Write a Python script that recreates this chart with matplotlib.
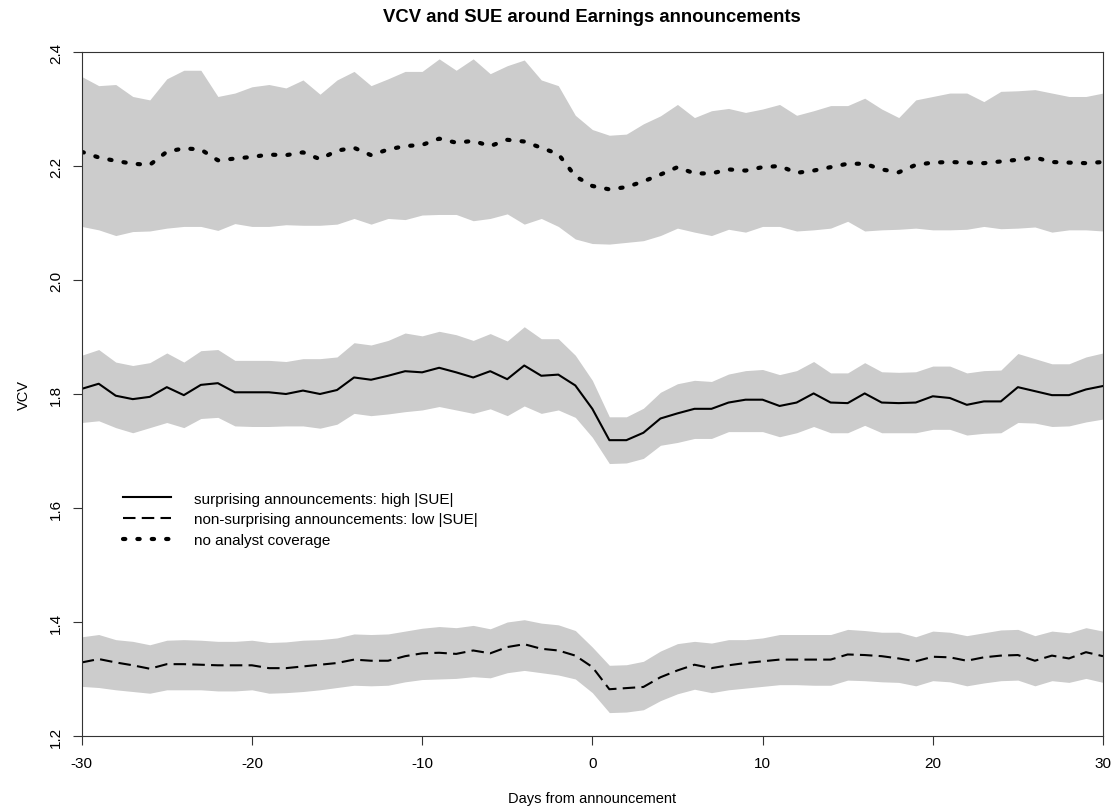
import numpy as np
import matplotlib
matplotlib.use("Agg")
import matplotlib.pyplot as plt

# ---------------------------------------------------------
# Data
# ---------------------------------------------------------
days = list(range(-30, 31))

# no analyst coverage (dotted) and its band
nocov_mean = [2.225, 2.215, 2.209, 2.204, 2.202, 2.225, 2.231, 2.229, 2.210, 2.213,
              2.216, 2.220, 2.219, 2.224, 2.212, 2.227, 2.232, 2.219, 2.229, 2.235,
              2.237, 2.248, 2.241, 2.244, 2.235, 2.246, 2.243, 2.232, 2.221, 2.182,
              2.165, 2.159, 2.163, 2.173, 2.185, 2.198, 2.187, 2.187, 2.194, 2.192,
              2.198, 2.200, 2.188, 2.192, 2.198, 2.204, 2.204, 2.194, 2.189, 2.202,
              2.206, 2.207, 2.206, 2.205, 2.208, 2.211, 2.215, 2.207, 2.206, 2.205, 2.207]
nocov_hi = [2.357, 2.341, 2.343, 2.322, 2.316, 2.353, 2.368, 2.368, 2.322, 2.328,
            2.339, 2.343, 2.337, 2.351, 2.326, 2.351, 2.366, 2.341, 2.353, 2.366,
            2.366, 2.388, 2.368, 2.388, 2.362, 2.376, 2.386, 2.351, 2.341, 2.289,
            2.264, 2.254, 2.256, 2.274, 2.288, 2.308, 2.285, 2.297, 2.301, 2.294,
            2.300, 2.308, 2.289, 2.297, 2.306, 2.306, 2.319, 2.300, 2.285, 2.316,
            2.322, 2.328, 2.328, 2.313, 2.331, 2.332, 2.334, 2.328, 2.322, 2.322, 2.328]
nocov_lo = [2.094, 2.088, 2.078, 2.085, 2.086, 2.091, 2.094, 2.094, 2.087, 2.099,
            2.094, 2.094, 2.097, 2.096, 2.096, 2.098, 2.108, 2.098, 2.108, 2.106,
            2.114, 2.115, 2.115, 2.104, 2.108, 2.116, 2.098, 2.108, 2.094, 2.072,
            2.064, 2.063, 2.066, 2.069, 2.078, 2.091, 2.084, 2.078, 2.089, 2.084,
            2.094, 2.094, 2.086, 2.088, 2.091, 2.103, 2.086, 2.088, 2.089, 2.091,
            2.088, 2.088, 2.089, 2.094, 2.090, 2.091, 2.093, 2.084, 2.088, 2.088, 2.086]

# surprising announcements: high |SUE| (solid)
high_mean = [1.809, 1.818, 1.797, 1.791, 1.795, 1.812, 1.798, 1.816, 1.819, 1.803,
             1.803, 1.803, 1.800, 1.806, 1.800, 1.807, 1.829, 1.825, 1.832, 1.840,
             1.838, 1.846, 1.838, 1.829, 1.840, 1.826, 1.850, 1.832, 1.834, 1.815,
             1.774, 1.719, 1.719, 1.732, 1.757, 1.766, 1.774, 1.774, 1.785, 1.790,
             1.790, 1.779, 1.785, 1.801, 1.785, 1.784, 1.801, 1.785, 1.784, 1.785,
             1.796, 1.793, 1.781, 1.787, 1.787, 1.812, 1.805, 1.798, 1.798, 1.808, 1.814]
high_hi = [1.868, 1.878, 1.856, 1.850, 1.855, 1.872, 1.856, 1.876, 1.878, 1.859,
           1.859, 1.859, 1.857, 1.862, 1.862, 1.865, 1.890, 1.886, 1.894, 1.907,
           1.902, 1.910, 1.904, 1.894, 1.906, 1.893, 1.918, 1.897, 1.897, 1.868,
           1.824, 1.760, 1.760, 1.775, 1.803, 1.818, 1.824, 1.822, 1.835, 1.841,
           1.843, 1.834, 1.841, 1.857, 1.837, 1.837, 1.855, 1.839, 1.838, 1.839,
           1.849, 1.849, 1.837, 1.841, 1.842, 1.871, 1.862, 1.853, 1.853, 1.865, 1.872]
high_lo = [1.750, 1.753, 1.741, 1.732, 1.741, 1.750, 1.741, 1.757, 1.759, 1.744,
           1.743, 1.743, 1.744, 1.744, 1.740, 1.747, 1.766, 1.762, 1.765, 1.769,
           1.772, 1.778, 1.772, 1.766, 1.774, 1.762, 1.779, 1.766, 1.772, 1.759,
           1.724, 1.678, 1.679, 1.687, 1.710, 1.715, 1.722, 1.722, 1.734, 1.734,
           1.734, 1.725, 1.732, 1.743, 1.732, 1.732, 1.745, 1.732, 1.732, 1.732,
           1.738, 1.738, 1.728, 1.731, 1.732, 1.750, 1.749, 1.743, 1.744, 1.751, 1.756]

# non-surprising announcements: low |SUE| (dashed)
low_mean = [1.329, 1.335, 1.329, 1.324, 1.318, 1.326, 1.326, 1.325, 1.324, 1.324,
            1.324, 1.319, 1.319, 1.322, 1.325, 1.328, 1.334, 1.332, 1.332, 1.340,
            1.345, 1.346, 1.344, 1.350, 1.345, 1.356, 1.361, 1.353, 1.350, 1.341,
            1.321, 1.282, 1.284, 1.286, 1.303, 1.315, 1.325, 1.319, 1.324, 1.328,
            1.331, 1.334, 1.334, 1.334, 1.334, 1.343, 1.342, 1.340, 1.336, 1.331,
            1.339, 1.338, 1.332, 1.338, 1.341, 1.342, 1.332, 1.341, 1.336, 1.347, 1.340]
low_hi = [1.374, 1.378, 1.369, 1.366, 1.360, 1.368, 1.369, 1.368, 1.366, 1.366,
          1.368, 1.364, 1.365, 1.368, 1.369, 1.372, 1.379, 1.378, 1.379, 1.384,
          1.389, 1.392, 1.390, 1.394, 1.388, 1.400, 1.404, 1.398, 1.395, 1.385,
          1.356, 1.324, 1.325, 1.331, 1.349, 1.362, 1.366, 1.363, 1.369, 1.369,
          1.372, 1.378, 1.378, 1.378, 1.378, 1.387, 1.385, 1.382, 1.382, 1.374,
          1.384, 1.382, 1.376, 1.381, 1.386, 1.387, 1.376, 1.384, 1.381, 1.390, 1.384]
low_lo = [1.287, 1.285, 1.281, 1.278, 1.275, 1.281, 1.281, 1.281, 1.279, 1.279,
          1.281, 1.275, 1.276, 1.278, 1.281, 1.285, 1.289, 1.288, 1.289, 1.295,
          1.299, 1.300, 1.301, 1.304, 1.302, 1.311, 1.315, 1.311, 1.307, 1.300,
          1.276, 1.241, 1.242, 1.246, 1.262, 1.274, 1.282, 1.276, 1.281, 1.284,
          1.287, 1.290, 1.290, 1.289, 1.289, 1.298, 1.297, 1.295, 1.294, 1.288,
          1.297, 1.295, 1.288, 1.293, 1.297, 1.298, 1.288, 1.297, 1.294, 1.301, 1.294]

x_ticks = [-30, -20, -10, 0, 10, 20, 30]
y_ticks = [1.2, 1.4, 1.6, 1.8, 2.0, 2.2, 2.4]

labels = ['surprising announcements: high |SUE|',
          'non-surprising announcements: low |SUE|',
          'no analyst coverage']

# ---------------------------------------------------------
# Plot
# ---------------------------------------------------------
plt.rcParams['font.family'] = ['Liberation Sans', 'DejaVu Sans']

fig = plt.figure(figsize=(11.13, 8.12), dpi=100)
ax = fig.add_axes([0.0734, 0.0924, 0.9176, 0.8423])

band_color = '#cccccc'
ax.fill_between(days, nocov_lo, nocov_hi, color=band_color, lw=0)
ax.fill_between(days, high_lo, high_hi, color=band_color, lw=0)
ax.fill_between(days, low_lo, low_hi, color=band_color, lw=0)

ax.plot(days, high_mean, color='black', lw=1.5, label=labels[0])
ax.plot(days, low_mean, color='black', lw=1.5, linestyle=(0, (6, 3)), label=labels[1])
# R-style dotted line: short rounded dashes
ax.plot(days, nocov_mean, color='black', lw=3, linestyle=(0, (0.55, 2.9)),
        dash_capstyle='round', label=labels[2])

ax.set_xlim(-30, 30)
ax.set_ylim(1.2, 2.4)
ax.set_xticks(x_ticks)
ax.set_xticklabels([str(t) for t in x_ticks])
ax.set_yticks(y_ticks)
ax.set_yticklabels([f"{t:.1f}" for t in y_ticks], rotation=90, va='center')

for sp in ax.spines.values():
    sp.set_linewidth(0.8)
    sp.set_color('#333333')
ax.tick_params(axis='both', direction='out', length=6.5, width=0.8, labelsize=11,
               color='#333333')
ax.tick_params(axis='x', pad=8)
ax.tick_params(axis='y', pad=7)

ax.set_title("VCV and SUE around Earnings announcements", fontsize=13.3,
             fontweight='bold', pad=22)
ax.set_xlabel("Days from announcement", fontsize=10.5, labelpad=15)
ax.set_ylabel("VCV", fontsize=10.5, labelpad=13)

ax.legend(loc='upper left', bbox_to_anchor=(0.040, 0.357), frameon=False,
          fontsize=11, handlelength=3.15, handletextpad=1.55,
          labelspacing=0.43, borderpad=0, borderaxespad=0)

fig.savefig("out.png", dpi=100)
